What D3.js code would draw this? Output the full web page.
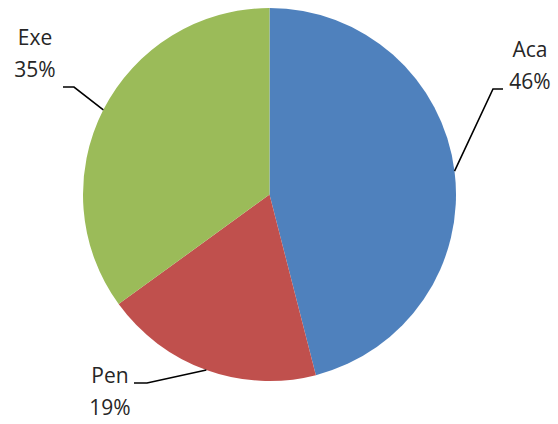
<!DOCTYPE html>
<html>
<head>
<meta charset="utf-8">
<script src="https://cdn.jsdelivr.net/npm/d3@7"></script>
<style>
  body { margin: 0; background: #fff; }
  text { font-family: "Open Sans", "Liberation Sans", sans-serif; fill: #262626; }
</style>
</head>
<body>
<div id="chart-area"></div>
<script>
// chart data
var categories = ["Aca", "Pen", "Exe"];
var values = [46, 19, 35];
var colors = ["#4F81BD", "#C0504D", "#9BBB59"];

// label layout: elbow point and text anchor for each slice
var labelLayout = [
  { elbow: [493, 89], end: [503, 89], tx: 530, ty: 57 },
  { elbow: [147, 383], end: [134, 383], tx: 110, ty: 383 },
  { elbow: [74, 87], end: [63, 87], tx: 35, ty: 45 }
];

var width = 558, height = 424;
var cx = 269.5, cy = 194.5, radius = 186.5;

var svg = d3.select("#chart-area").append("svg")
  .attr("width", width)
  .attr("height", height);

var g = svg.append("g")
  .attr("transform", "translate(" + cx + "," + cy + ")");

var pie = d3.pie().sort(null).value(function(d) { return d; });
var arcs = pie(values);
var total = d3.sum(values);

var arc = d3.arc().innerRadius(0).outerRadius(radius);

g.selectAll("path.slice")
  .data(arcs)
  .enter()
  .append("path")
    .attr("class", "slice")
    .attr("d", arc)
    .attr("fill", function(d, i) { return colors[i]; });

// leader lines from the middle of each slice's outer edge
svg.selectAll("polyline.leader")
  .data(arcs)
  .enter()
  .append("polyline")
    .attr("class", "leader")
    .attr("fill", "none")
    .attr("stroke", "#000")
    .attr("stroke-width", 1.6)
    .attr("points", function(d, i) {
      var a = (d.startAngle + d.endAngle) / 2;
      var sx = cx + radius * Math.sin(a);
      var sy = cy - radius * Math.cos(a);
      var L = labelLayout[i];
      return [[sx, sy], L.elbow, L.end].map(function(p) { return p.join(","); }).join(" ");
    });

// labels
var labels = svg.selectAll("text.label")
  .data(arcs)
  .enter()
  .append("text")
    .attr("class", "label")
    .attr("text-anchor", "middle")
    .attr("font-size", "21px");

labels.append("tspan")
  .attr("x", function(d, i) { return labelLayout[i].tx; })
  .attr("y", function(d, i) { return labelLayout[i].ty; })
  .text(function(d, i) { return categories[i]; });

labels.append("tspan")
  .attr("x", function(d, i) { return labelLayout[i].tx; })
  .attr("y", function(d, i) { return labelLayout[i].ty + 31.5; })
  .text(function(d) { return Math.round(d.value / total * 100) + "%"; });
</script>
</body>
</html>
